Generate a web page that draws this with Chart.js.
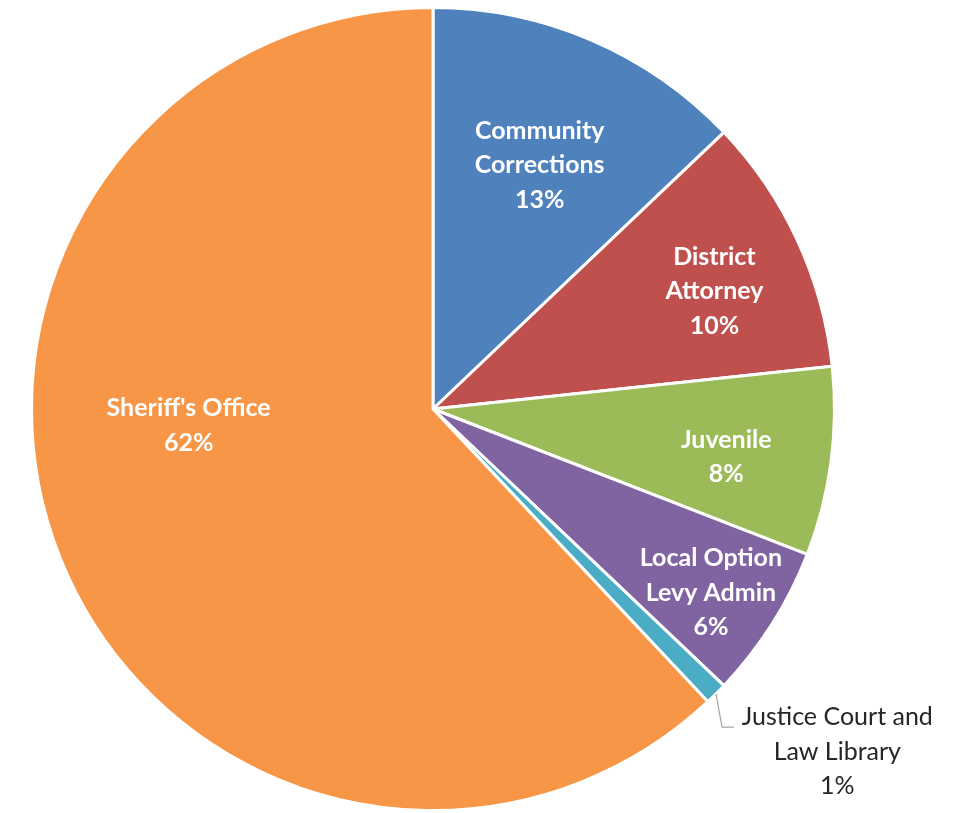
<!DOCTYPE html>
<html>
<head>
<meta charset="utf-8">
<script src="https://cdn.jsdelivr.net/npm/chart.js@4.4.0/dist/chart.umd.min.js"></script>
<style>
  html, body { margin: 0; padding: 0; background: #ffffff; }
  #wrap { width: 961px; height: 813px; }
</style>
</head>
<body>
<div id="wrap"><canvas id="chart" width="961" height="813"></canvas></div>
<script>
// slice data, clockwise from 12 o'clock
const categories = [
  ["Community", "Corrections"],
  ["District", "Attorney"],
  ["Juvenile"],
  ["Local Option", "Levy Admin"],
  ["Justice Court and", "Law Library"],
  ["Sheriff's Office"]
];
const shares = [12.9, 10.4, 7.6, 6.2, 0.9, 62.0];
const sliceColors = ["#4F81BD", "#C0504D", "#9BBB59", "#8064A2", "#4BACC6", "#F79646"];

// label placement: fraction of radius, angle nudge (deg), inside or outside
const labelRadius = [0.663, 0.76, 0.74, 0.83, 1.32, 0.61];
const labelShift = [0.4, 2.1, 1.7, 1.1, -4.9, 17.8];
const labelInside = [true, true, true, true, false, true];

const total = shares.reduce((a, b) => a + b, 0);

// draw data labels like the spreadsheet does
const sliceLabels = {
  id: "sliceLabels",
  afterDatasetsDraw(chart) {
    const ctx = chart.ctx;
    const arcs = chart.getDatasetMeta(0).data;
    arcs.forEach(function (arc, i) {
      const mid = (arc.startAngle + arc.endAngle) / 2 + labelShift[i] * Math.PI / 180;
      const r = arc.outerRadius * labelRadius[i];
      const cx = arc.x + Math.cos(mid) * r;
      const cy = arc.y + Math.sin(mid) * r;
      const pct = Math.round(shares[i] / total * 100) + "%";
      const lines = categories[i].concat([pct]);
      const lh = 34.5;
      ctx.save();
      ctx.textAlign = "center";
      ctx.textBaseline = "middle";
      if (labelInside[i]) {
        ctx.font = "bold 25px Lato, 'Open Sans', sans-serif";
        ctx.fillStyle = "#ffffff";
      } else {
        ctx.font = "25px Lato, 'Open Sans', sans-serif";
        ctx.fillStyle = "#262626";
      }
      const top = cy - (lines.length - 1) * lh / 2;
      lines.forEach(function (t, k) {
        ctx.fillText(t, cx, top + k * lh);
      });
      if (!labelInside[i]) {
        // leader line
        const edge = (arc.startAngle + arc.endAngle) / 2;
        const sx = arc.x + Math.cos(edge) * arc.outerRadius;
        const sy = arc.y + Math.sin(edge) * arc.outerRadius;
        const w = ctx.measureText(lines[0]).width;
        const tx = cx - w / 2 - 8;
        const ty = top + 10;
        ctx.strokeStyle = "#a6a6a6";
        ctx.lineWidth = 1.2;
        ctx.beginPath();
        ctx.moveTo(sx, sy);
        ctx.lineTo(sx + 6, ty);
        ctx.lineTo(tx, ty);
        ctx.stroke();
      }
      ctx.restore();
    });
  }
};

new Chart(document.getElementById("chart"), {
  type: "pie",
  data: {
    labels: categories.map(c => c.join(" ")),
    datasets: [{
      data: shares,
      backgroundColor: sliceColors,
      borderColor: "#ffffff",
      borderWidth: 3
    }]
  },
  options: {
    responsive: false,
    animation: false,
    layout: { padding: { left: 30, right: 125, top: 5, bottom: 0 } },
    plugins: {
      legend: { display: false },
      tooltip: { enabled: false }
    }
  },
  plugins: [sliceLabels]
});
</script>
</body>
</html>
